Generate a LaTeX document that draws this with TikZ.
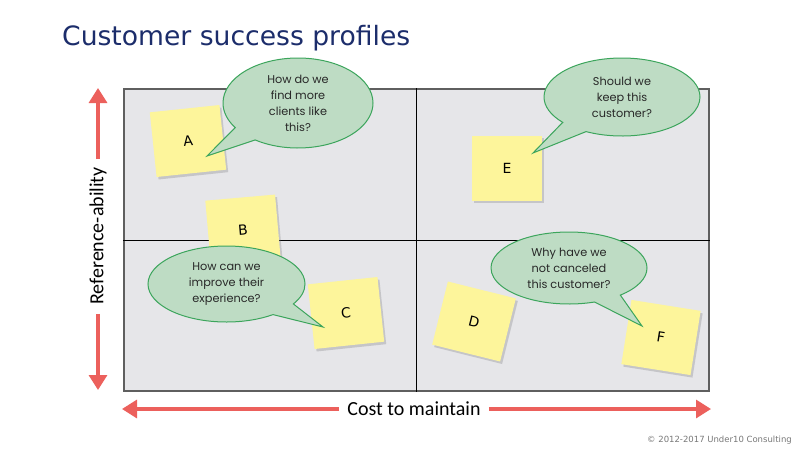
\documentclass[tikz,border=0pt]{standalone}
\usepackage{fontspec}
\setmainfont{DejaVu Sans}
\newfontfamily\bubblefont{Poppins}
\newfontfamily\axisfont{Carlito}
\newfontfamily\letterfont{DejaVu Sans}
\usetikzlibrary{arrows.meta,shapes.callouts,shadows}
\definecolor{titleblue}{RGB}{28,45,107}
\definecolor{gridfill}{RGB}{230,230,233}
\definecolor{gridborder}{RGB}{95,95,95}
\definecolor{stickyyellow}{RGB}{253,245,155}
\definecolor{bubblefill}{RGB}{190,220,196}
\definecolor{bubbleedge}{RGB}{60,165,92}
\definecolor{bubbletext}{RGB}{40,40,40}
\definecolor{arrowred}{RGB}{236,96,92}
\definecolor{copygray}{RGB}{120,120,120}
\begin{document}
\begin{tikzpicture}[x=1pt,y=-1pt,
  sticky/.style={draw=none, fill=stickyyellow, minimum width=70pt, minimum height=65pt, inner sep=0pt,
    drop shadow={shadow xshift=2pt,shadow yshift=-2.5pt,opacity=0.25,fill=black!60},
    font=\letterfont\fontsize{14}{14}\selectfont},
  bubble/.style={ellipse callout, draw=bubbleedge, line width=1pt, fill=bubblefill, inner sep=0pt,
    callout pointer arc=22, align=center, font=\bubblefont\fontsize{11.3}{16}\selectfont, text=bubbletext},
  redarrow/.style={draw=arrowred, line width=3.2pt, -{Triangle[width=18pt,length=15pt]}},
  axislabel/.style={font=\axisfont\fontsize{20}{20}\selectfont, text=black, inner sep=0pt},
]
\useasboundingbox (0,0) rectangle (800,450);
\fill[white] (0,0) rectangle (800,450);

% title
\node[anchor=base west, font=\fontsize{26.6}{27}\selectfont, text=titleblue, inner sep=0pt] (title) at (62,45) {Customer success profiles};

% grid
\node[draw=gridborder, line width=1.5pt, fill=gridfill, minimum width=585pt, minimum height=302pt, inner sep=0pt] (grid) at (416.5,240) {};
\draw[black, line width=0.8pt] (grid.north) -- (grid.south);
\draw[black, line width=0.8pt] (grid.west) -- (grid.east);

% sticky notes
\node[sticky, rotate=6]  (A) at (188,141) {A};
\node[sticky, rotate=5]  (B) at (243,230) {B};
\node[sticky, rotate=6]  (C) at (346,313) {C};
\node[sticky, rotate=-14] (D) at (474,321.5) {D};
\node[sticky] (E) at (507,168) {E};
\node[sticky, rotate=-9] (F) at (661,337.5) {F};

% pointer tips
\coordinate (tipA) at (207,156);
\coordinate (tipC) at (323,327);
\coordinate (tipE) at (533,153);
\coordinate (tipF) at (642,326);

% bubbles
\node[bubble, minimum width=150pt, minimum height=90pt, callout absolute pointer={(tipA)}] (qA) at (298,103)
  {How do we\\find more\\clients like\\this?};
\node[bubble, minimum width=156pt, minimum height=78pt, callout absolute pointer={(tipE)}] (qE) at (622,97)
  {Should we\\keep this\\customer?};
\node[bubble, minimum width=157pt, minimum height=76pt, callout absolute pointer={(tipC)}] (qC) at (226.5,284)
  {How can we\\improve their\\experience?};
\node[bubble, minimum width=156pt, minimum height=72pt, callout absolute pointer={(tipF)}] (qF) at (569,268)
  {Why have we\\not canceled\\this customer?};

% axes
\node[axislabel, rotate=90] (ylab) at (98,236) {Reference-ability};
\node[axislabel] (xlab) at (414,409) {Cost to maintain};
\coordinate (ytop) at (98,88);
\coordinate (ybot) at (98,390);
\coordinate (xleft) at (122,409);
\coordinate (xright) at (711,409);
\draw[redarrow] ([yshift=8pt]ylab.east) -- (ytop);
\draw[redarrow] ([yshift=-9pt]ylab.west) -- (ybot);
\draw[redarrow] ([xshift=-8pt]xlab.west) -- (xleft);
\draw[redarrow] ([xshift=8pt]xlab.east) -- (xright);

% copyright
\node[anchor=base east, font=\fontsize{8.5}{9}\selectfont, text=copygray, inner sep=0pt] (copy) at (792,442) {© 2012-2017 Under10 Consulting};
\end{tikzpicture}
\end{document}
